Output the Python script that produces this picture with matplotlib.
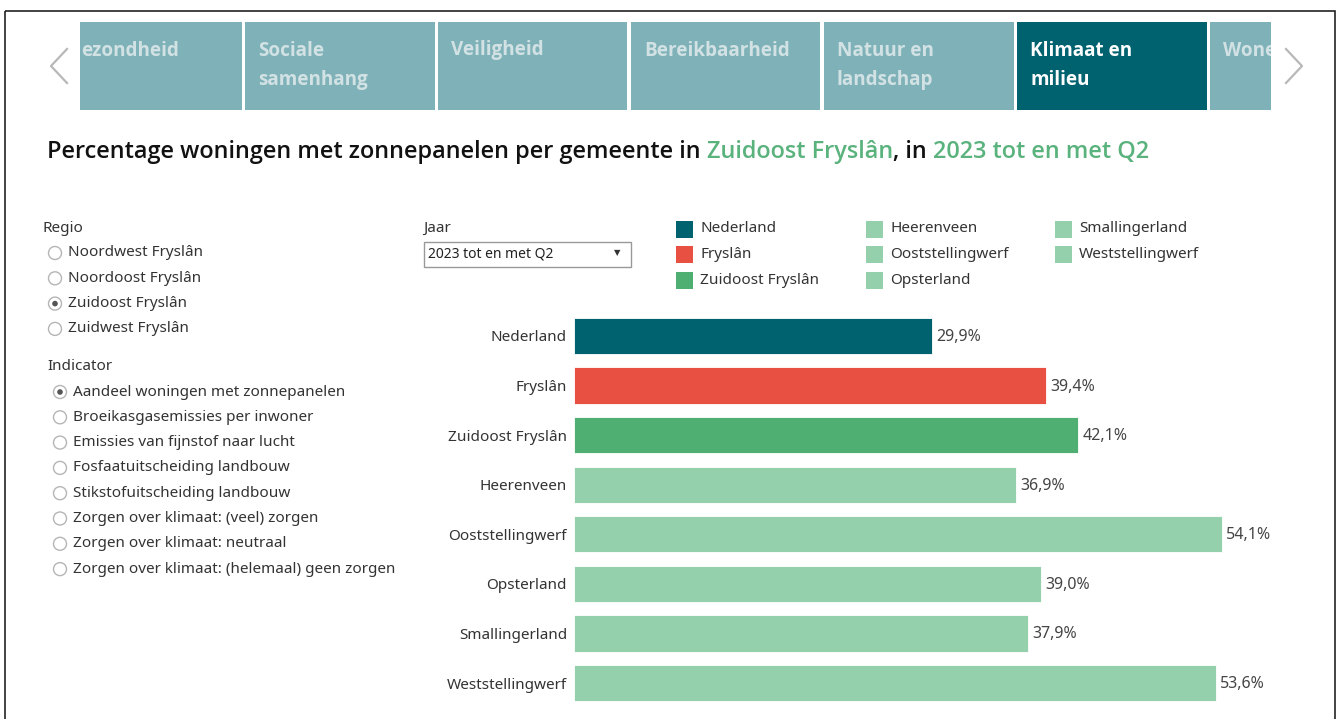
import matplotlib
matplotlib.use('Agg')
import matplotlib.pyplot as plt
from matplotlib.patches import Rectangle, Circle
import numpy as np

plt.rcParams['font.family'] = ['Noto Sans', 'DejaVu Sans']

# data
gemeenten = ['Nederland', 'Fryslân', 'Zuidoost Fryslân', 'Heerenveen',
             'Ooststellingwerf', 'Opsterland', 'Smallingerland', 'Weststellingwerf']
percentages = [29.9, 39.4, 42.1, 36.9, 54.1, 39.0, 37.9, 53.6]
bar_colors = ['#00616f', '#e85142', '#4faf73', '#95d0ad',
              '#95d0ad', '#95d0ad', '#95d0ad', '#95d0ad']

tabs = ['ezondheid', 'Sociale\nsamenhang', 'Veiligheid', 'Bereikbaarheid',
        'Natuur en\nlandschap', 'Klimaat en\nmilieu', 'Wonen']
tab_x = [80, 245, 438, 631, 824, 1017, 1210]
tab_w = [162, 190, 189, 189, 190, 190, 61]
active_tab = 5

regio = ['Noordwest Fryslân', 'Noordoost Fryslân', 'Zuidoost Fryslân', 'Zuidwest Fryslân']
regio_sel = 2
indicators = ['Aandeel woningen met zonnepanelen', 'Broeikasgasemissies per inwoner',
              'Emissies van fijnstof naar lucht', 'Fosfaatuitscheiding landbouw',
              'Stikstofuitscheiding landbouw', 'Zorgen over klimaat: (veel) zorgen',
              'Zorgen over klimaat: neutraal', 'Zorgen over klimaat: (helemaal) geen zorgen']
ind_sel = 0

W, H = 1340, 719
fs = 11
fig = plt.figure(figsize=(W / 100, H / 100), dpi=100)
ov = fig.add_axes([0, 0, 1, 1])
ov.set_xlim(0, W)
ov.set_ylim(H, 0)
ov.axis('off')

# outer frame
ov.add_patch(Rectangle((5, 11), 1330, 720, fill=False, ec='#222222', lw=1.2))

# tabs
for i, (t, x, w) in enumerate(zip(tabs, tab_x, tab_w)):
    fc = '#00616f' if i == active_tab else '#7fb2b8'
    tc = 'white' if i == active_tab else '#d2e2e4'
    r = Rectangle((x, 22), w, 88, fc=fc, ec='none')
    ov.add_patch(r)
    txt = ov.text(x + 13 if i > 0 else x + 1, 40.5, t, color=tc, fontsize=13.6,
                  fontweight='bold', va='top', ha='left', linespacing=1.62,
                  family=['Open Sans', 'DejaVu Sans'], clip_on=True)
    txt.set_clip_path(r)

# arrows
ov.plot([67, 51, 67], [49, 66, 83], color='#b8b8b8', lw=1.6)
ov.plot([1286, 1302, 1286], [49, 66, 83], color='#b8b8b8', lw=1.6)

# title
green = '#5ab27d'
parts = [('Percentage woningen met zonnepanelen per gemeente in ', '#111111'),
         ('Zuidoost Fryslân', green), (', in ', '#111111'), ('2023 tot en met Q2', green)]
x0 = 47
for s, c in parts:
    t = ov.text(x0, 152, s, color=c, fontsize=16.9, va='center', ha='left',
                fontweight='semibold', family=['Open Sans', 'DejaVu Sans'])
    fig.canvas.draw()
    bb = t.get_window_extent()
    x0 += bb.width

# regio filter
ov.text(42, 228, 'Regio', fontsize=fs, color='#333333', va='center')
for i, r in enumerate(regio):
    y = 253 + i * 25.3
    ov.add_patch(Circle((55, y), 6.5, fill=False, ec='#b5b5b5', lw=1))
    if i == regio_sel:
        ov.add_patch(Circle((55, y), 2.8, fc='#555555', ec='none'))
    ov.text(68, y, r, fontsize=fs, color='#333333', va='center')

ov.text(47, 366, 'Indicator', fontsize=fs, color='#333333', va='center')
for i, r in enumerate(indicators):
    y = 392 + i * 25.3
    ov.add_patch(Circle((60, y), 6.5, fill=False, ec='#b5b5b5', lw=1))
    if i == ind_sel:
        ov.add_patch(Circle((60, y), 2.8, fc='#555555', ec='none'))
    ov.text(73, y, r, fontsize=fs, color='#333333', va='center')

# jaar dropdown
ov.text(423, 228, 'Jaar', fontsize=fs, color='#333333', va='center')
ov.add_patch(Rectangle((423.5, 241.5), 207, 25, fill=False, ec='#999999', lw=1))
ov.text(428, 254, '2023 tot en met Q2', fontsize=10, color='#222222', va='center')
ov.text(617, 253, '▼', fontsize=6, color='#333333', va='center', ha='center',
        family='DejaVu Sans')

# legend
leg_x = [676, 866, 1055]
for i, (g, c) in enumerate(zip(gemeenten, bar_colors)):
    col = 0 if i < 3 else (1 if i < 6 else 2)
    row = i if i < 3 else (i - 3 if i < 6 else i - 6)
    x = leg_x[col]
    y = 229 + row * 25.5
    ov.add_patch(Rectangle((x, y - 8.5), 17, 17, fc=c, ec='none'))
    ov.text(x + 24, y, g, fontsize=fs, color='#333333', va='center')

# bar chart
px = 11.97
top, bottom = 311.2, 707.8
ax = fig.add_axes([574 / W, 1 - bottom / H, 720 / W, (bottom - top) / H])
ypos = np.arange(len(gemeenten))
ax.barh(ypos, percentages, height=0.73, color=bar_colors, edgecolor='white', lw=0.6)
ax.set_xlim(0, 720 / px)
ax.set_ylim(len(gemeenten) - 0.5, -0.5)
ax.set_yticks(ypos)
ax.set_yticklabels(gemeenten, fontsize=fs, color='#333333')
ax.tick_params(axis='y', length=0, pad=5)
ax.set_xticks([])
for s in ax.spines.values():
    s.set_visible(False)
ax.patch.set_alpha(0)
for yv, v in zip(ypos, percentages):
    ax.text(v + 0.4, yv + 0.02, f'{v:.1f}%'.replace('.', ','), fontsize=11.5,
            color='#444444', va='center', ha='left')

fig.savefig('out.png', dpi=100)
